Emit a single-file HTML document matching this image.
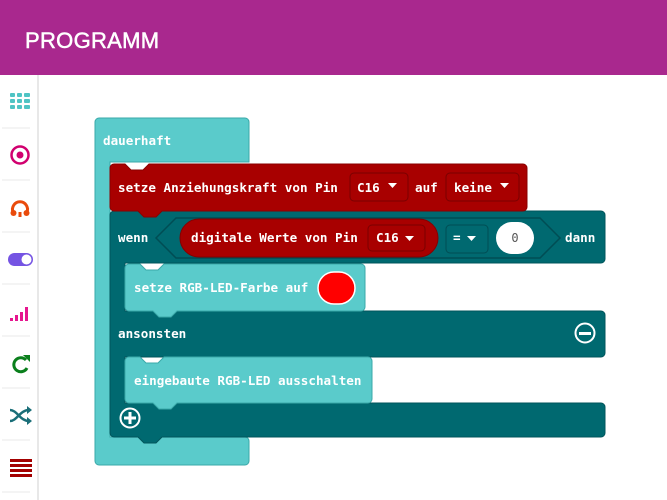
<!DOCTYPE html>
<html><head><meta charset="utf-8"><style>
body{margin:0;width:667px;height:500px;overflow:hidden;background:#fff}
svg{display:block}
.t{font-family:"DejaVu Sans Mono","Liberation Mono",monospace;font-weight:bold;font-size:12.6px;fill:#fff}
</style></head><body>
<svg width="667" height="500" viewBox="0 0 667 500">
<rect x="0" y="0" width="667" height="75" fill="#a9288e"/>
<text x="25" y="48" font-family="Liberation Sans, sans-serif" font-size="22" fill="#fff" stroke="#fff" stroke-width="0.5" letter-spacing="0.3">PROGRAMM</text>
<!-- sidebar -->
<rect x="0" y="75" width="38" height="425" fill="#fff"/>
<rect x="37" y="75" width="2" height="425" fill="#e8e8e8"/>
<g stroke="#e8e8e8" stroke-width="1">
<line x1="2" y1="128" x2="30" y2="128"/><line x1="2" y1="180" x2="30" y2="180"/><line x1="2" y1="232" x2="30" y2="232"/><line x1="2" y1="284" x2="30" y2="284"/><line x1="2" y1="336" x2="30" y2="336"/><line x1="2" y1="388" x2="30" y2="388"/><line x1="2" y1="440" x2="30" y2="440"/><line x1="2" y1="492" x2="30" y2="492"/>
</g>
<g fill="#4fc4c4">
<rect x="10" y="93" width="5" height="4" rx="1"/><rect x="17" y="93" width="5" height="4" rx="1"/><rect x="24" y="93" width="6" height="4" rx="1"/>
<rect x="10" y="99" width="5" height="4" rx="1"/><rect x="17" y="99" width="5" height="4" rx="1"/><rect x="24" y="99" width="6" height="4" rx="1"/>
<rect x="10" y="105" width="5" height="4" rx="1"/><rect x="17" y="105" width="5" height="4" rx="1"/><rect x="24" y="105" width="6" height="4" rx="1"/>
</g>
<circle cx="20" cy="155" r="8.5" fill="none" stroke="#d1006f" stroke-width="2.5"/><circle cx="20" cy="155" r="3.5" fill="#d1006f"/>
<path d="M13 212 A7.5 7.5 0 1 1 27 212" fill="none" stroke="#e94b0c" stroke-width="3"/><circle cx="13.5" cy="213" r="3" fill="#e94b0c"/><circle cx="26.5" cy="213" r="3" fill="#e94b0c"/><rect x="18.5" y="212" width="3" height="5" fill="#e94b0c"/>
<rect x="8" y="253" width="25" height="13" rx="6.5" fill="#7554e3"/><circle cx="26.5" cy="259.5" r="5" fill="#fff"/>
<g fill="#e6168f"><rect x="10" y="318" width="3" height="3"/><rect x="15" y="315" width="3" height="6"/><rect x="20" y="312" width="3" height="9"/><rect x="25" y="307" width="3" height="14"/></g>
<path d="M26 360 A7 7 0 1 0 27 368" fill="none" stroke="#0a7f1c" stroke-width="3"/><path d="M23 355 L30 355 L30 362 Z" fill="#0a7f1c"/>
<path d="M10 410 C17 410 20 421 29 421 M10 421 C17 421 20 410 29 410" fill="none" stroke="#1a6e78" stroke-width="2.5"/><path d="M27 406 L32 410 L27 414Z M27 417 L32 421 L27 425Z" fill="#1a6e78"/>
<g fill="#a30000"><rect x="10" y="459" width="22" height="3"/><rect x="10" y="464" width="22" height="3"/><rect x="10" y="469" width="22" height="3"/><rect x="10" y="474" width="22" height="3"/></g>

<!-- dauerhaft -->
<path d="M99 118 H245 a4 4 0 0 1 4 4 V162 H110 V437 H245 a4 4 0 0 1 4 4 V461 a4 4 0 0 1 -4 4 H99 a4 4 0 0 1 -4 -4 V122 a4 4 0 0 1 4 -4Z" fill="#5acbcb" stroke="#3aa9a9" stroke-width="1"/>
<text class="t" x="103" y="145">dauerhaft</text>
<!-- wenn block -->
<path d="M114 211 H601 a4 4 0 0 1 4 4 V259 a4 4 0 0 1 -4 4 H125 V311 H601 a4 4 0 0 1 4 4 V353 a4 4 0 0 1 -4 4 H125 V403 H601 a4 4 0 0 1 4 4 V433 a4 4 0 0 1 -4 4 H162 l-6 6 h-12 l-6 -6 H114 a4 4 0 0 1 -4 -4 V215 a4 4 0 0 1 4 -4Z" fill="#006970" stroke="#00555b" stroke-width="1"/>
<text class="t" x="118" y="242">wenn</text>
<text class="t" x="565" y="242">dann</text>
<text class="t" x="118" y="338">ansonsten</text>
<!-- hex slot -->
<path d="M176 218 H540 L560 238 L540 258 H176 L156 238Z" fill="#006970" stroke="#004d54" stroke-width="1.5"/>
<rect x="180" y="219" width="258" height="38" rx="19" fill="#a80000" stroke="#850000"/>
<text class="t" x="191" y="242">digitale Werte von Pin</text>
<rect x="368" y="225" width="57" height="26" rx="4" fill="#a80000" stroke="#7a0000"/>
<text class="t" x="376" y="242">C16</text><path d="M405 236 h9 l-4.5 5Z" fill="#fff"/>
<rect x="446" y="225" width="42" height="28" rx="4" fill="#006970" stroke="#004d54"/>
<text class="t" x="453" y="242">=</text><path d="M467 236 h9 l-4.5 5Z" fill="#fff"/>
<rect x="496" y="222" width="38" height="32" rx="16" fill="#fff"/>
<text x="515" y="242" text-anchor="middle" font-family="DejaVu Sans Mono,monospace" font-size="12" fill="#555">0</text>
<circle cx="585" cy="333" r="9.5" fill="none" stroke="#fff" stroke-width="2"/><rect x="579" y="332" width="12" height="3" fill="#fff"/>
<circle cx="130" cy="418" r="9.5" fill="none" stroke="#fff" stroke-width="2"/><rect x="124" y="416.5" width="12" height="3" fill="#fff"/><rect x="128.5" y="412" width="3" height="12" fill="#fff"/>
<!-- red setze -->
<path d="M114 164 H125 l6 6 h12 l6 -6 H523 a4 4 0 0 1 4 4 V207 a4 4 0 0 1 -4 4 H162 l-6 6 h-12 l-6 -6 H114 a4 4 0 0 1 -4 -4 V168 a4 4 0 0 1 4 -4Z" fill="#a80000" stroke="#8a0000"/>
<text class="t" x="118" y="192">setze Anziehungskraft von Pin</text>
<rect x="350" y="173" width="58" height="28" rx="4" fill="#a80000" stroke="#7a0000"/>
<text class="t" x="357" y="192">C16</text><path d="M388 183 h9 l-4.5 5Z" fill="#fff"/>
<text class="t" x="415" y="192">auf</text>
<rect x="446" y="173" width="73" height="28" rx="4" fill="#a80000" stroke="#7a0000"/>
<text class="t" x="454" y="192">keine</text><path d="M500 183 h9 l-4.5 5Z" fill="#fff"/>
<!-- setze RGB -->
<path d="M129 264 H140 l6 6 h12 l6 -6 H361 a4 4 0 0 1 4 4 V307 a4 4 0 0 1 -4 4 H177 l-6 6 h-12 l-6 -6 H129 a4 4 0 0 1 -4 -4 V268 a4 4 0 0 1 4 -4Z" fill="#5acbcb" stroke="#3aa9a9"/>
<text class="t" x="134" y="292">setze RGB-LED-Farbe auf</text>
<rect x="318" y="272" width="37" height="32" rx="16" fill="#f00" stroke="#fff" stroke-width="1.5"/>
<!-- eingebaute -->
<path d="M129 357 H140 l6 6 h12 l6 -6 H368 a4 4 0 0 1 4 4 V399 a4 4 0 0 1 -4 4 H177 l-6 6 h-12 l-6 -6 H129 a4 4 0 0 1 -4 -4 V361 a4 4 0 0 1 4 -4Z" fill="#5acbcb" stroke="#3aa9a9"/>
<text class="t" x="134" y="385">eingebaute RGB-LED ausschalten</text>
</svg>
</body></html>
